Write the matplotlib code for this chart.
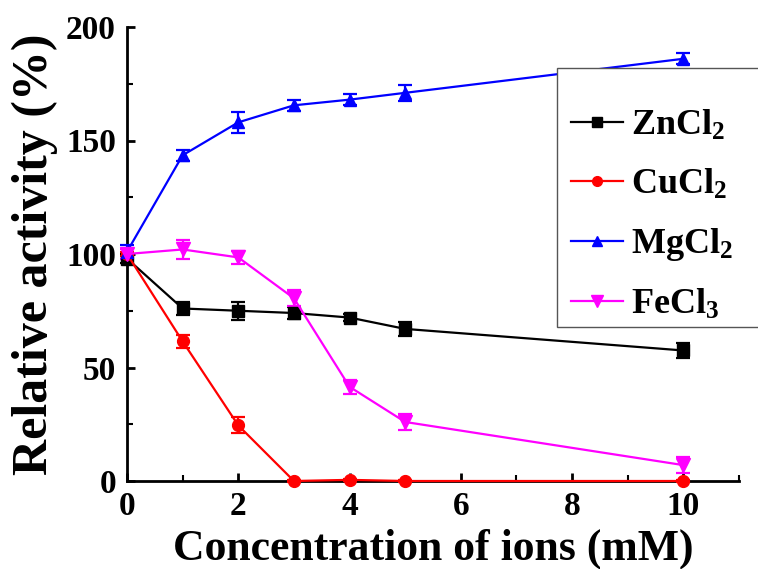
import matplotlib
matplotlib.use("Agg")
import matplotlib.pyplot as plt
from matplotlib.ticker import MultipleLocator
from matplotlib.patches import Rectangle

plt.rcParams['font.family'] = ['Liberation Serif', 'DejaVu Serif']
plt.rcParams['font.weight'] = 'bold'
plt.rcParams['mathtext.fontset'] = 'custom'
plt.rcParams['mathtext.rm'] = 'Liberation Serif:bold'
plt.rcParams['mathtext.it'] = 'Liberation Serif:bold'
plt.rcParams['mathtext.bf'] = 'Liberation Serif:bold'
plt.rcParams['mathtext.default'] = 'rm'

conc = [0, 1, 2, 3, 4, 5, 10]
labels = ["ZnCl$_2$", "CuCl$_2$", "MgCl$_2$", "FeCl$_3$"]
zn = [98, 76, 75, 74, 72, 67, 57.5]
zn_err = [2, 3, 4, 2.5, 1.5, 3, 3.5]
cu = [100, 61.5, 24.5, 0, 0.5, 0, 0]
cu_err = [1, 3, 3.5, 0.5, 0.5, 0.5, 0.5]
mg = [101, 143.5, 158, 165.5, 168, 171, 186]
mg_err = [3, 2.5, 4.5, 2.5, 2.5, 3.5, 2.5]
fe = [100, 102, 98.5, 80.5, 41.5, 26, 7]
fe_err = [2, 4, 3, 3.5, 3, 3.5, 3.5]

series = [zn, cu, mg, fe]
errs = [zn_err, cu_err, mg_err, fe_err]
colors = ['#000000', '#ff0000', '#0000ff', '#ff00ff']
markers = ['s', 'o', '^', 'v']
msizes = [8, 8.5, 9, 9.5]

W, H = 758, 569
fig = plt.figure(figsize=(W / 100, H / 100), dpi=100)
ax = fig.add_axes([127 / W, 1 - 481 / H, (739 - 127) / W, (481 - 27) / H])

handles = []
for y, e, c, m, ms, lab in zip(series, errs, colors, markers, msizes, labels):
    ax.errorbar(conc, y, yerr=e, color=c, ecolor=c, elinewidth=1.6,
                capsize=5, capthick=1.6, lw=1.6, zorder=3, marker=m,
                markersize=ms, markeredgecolor=c, markerfacecolor=c,
                clip_on=False)
    h, = ax.plot([], [], color=c, lw=1.6, marker=m, markersize=ms - 1.5,
                 markerfacecolor=c, markeredgecolor=c, label=lab)
    handles.append(h)

ax.set_xlim(0, 11)
ax.set_ylim(0, 200)
ax.xaxis.set_major_locator(MultipleLocator(2))
ax.xaxis.set_minor_locator(MultipleLocator(1))
ax.yaxis.set_major_locator(MultipleLocator(50))
ax.yaxis.set_minor_locator(MultipleLocator(25))
ax.spines['top'].set_visible(False)
ax.spines['right'].set_visible(False)
for s in ['left', 'bottom']:
    ax.spines[s].set_linewidth(2)
ax.tick_params(which='major', length=6, width=2, labelsize=24, direction='in')
ax.tick_params(axis='x', which='major', pad=7)
ax.tick_params(axis='y', which='major', pad=8)
ax.tick_params(which='minor', length=4, width=1.5, direction='in')
for lbl in ax.get_xticklabels() + ax.get_yticklabels():
    lbl.set_fontweight('bold')

ax.set_xlabel("Concentration of ions (mM)", fontsize=31.5, fontweight='bold', labelpad=5)
ax.set_ylabel("Relative activity (%)", fontsize=36, fontweight='bold', labelpad=6)

# legend frame (extends past the right edge as in the reference)
frame = Rectangle((557 / W, 1 - 327 / H), 0.4, (327 - 68) / H,
                  transform=fig.transFigure, fill=True, facecolor='white',
                  edgecolor='#555555', linewidth=1.0, zorder=5)
fig.add_artist(frame)

leg = fig.legend(handles=handles, loc='upper left', bbox_to_anchor=(571 / W, 1 - 109 / H),
                 bbox_transform=fig.transFigure, fontsize=26, frameon=False,
                 handlelength=1.45, handletextpad=0.2, labelspacing=0.68,
                 borderpad=0, borderaxespad=0)
leg.set_zorder(6)

fig.savefig("out.png", dpi=100)
